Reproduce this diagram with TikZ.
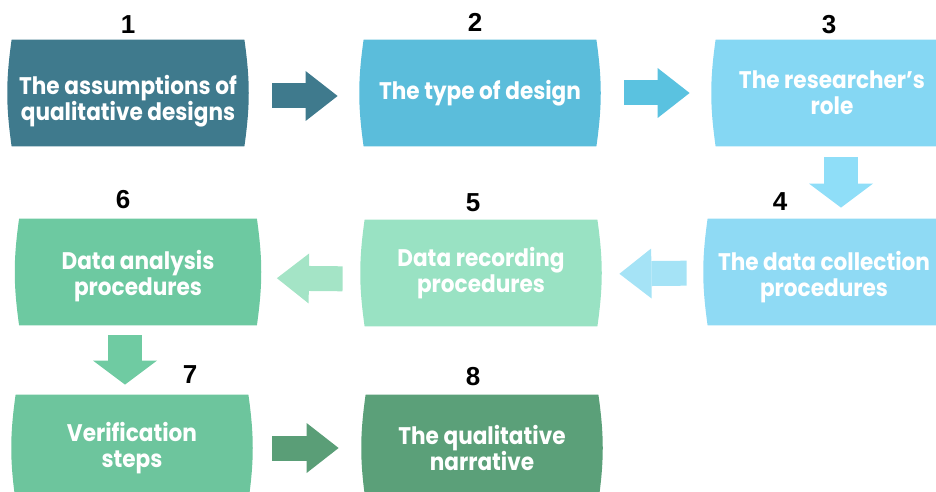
\documentclass[tikz,border=0pt]{standalone}
\usepackage{fontspec}
\setmainfont{Poppins}[FakeStretch=0.9]
\newfontfamily\numfont{Liberation Sans}
\usetikzlibrary{arrows.meta,calc,backgrounds}
% box colours
\definecolor{c1}{HTML}{3F7A8D}
\definecolor{c2}{HTML}{5BBDDB}
\definecolor{c3}{HTML}{85D7F3}
\definecolor{c4}{HTML}{8FDAF4}
\definecolor{c5}{HTML}{99E2C3}
\definecolor{c6}{HTML}{6DC9A1}
\definecolor{c7}{HTML}{6DC59D}
\definecolor{c8}{HTML}{5BA079}
% arrow colours
\definecolor{a23}{HTML}{5AC2E0}
\definecolor{a34}{HTML}{8FDEF8}
\definecolor{a45}{HTML}{A5E3F6}
\definecolor{a56}{HTML}{A4E4C6}
\definecolor{a67}{HTML}{6FCBA2}
\definecolor{a78}{HTML}{5A9E77}

\begin{document}
\begin{tikzpicture}[
        x=0.5pt,
        y=-0.5pt,
        stage/.style={rectangle, inner sep=0pt, minimum width=116pt, minimum height=53pt,
          align=center, text=white, font=\bfseries\fontsize{12}{13.2}\selectfont},
        num/.style={font=\numfont\bfseries\fontsize{13}{13}\selectfont},
        flow/.style={line width=12.5pt, -{Triangle[length=16pt,width=25pt,line width=0pt]}},
        back/.style={line width=12.5pt, {Triangle[length=16pt,width=25pt,line width=0pt]}-},
        drop/.style={line width=17pt, -{Triangle[length=12pt,width=32pt,line width=0pt]}},
        ]
        \clip (0,0) rectangle (936,492);

        % the eight stages, row by row (some text sits a bit low in its box)
        \node(b1)[stage] at (128,101) {The assumptions of\\qualitative designs};
        \node(b2)[stage] at (480,93) {The type of design};
        \node(b3)[stage] at (832,93) {The researcher's\\role};
        \node(b4)[stage] at (824,277) {The data collection\\procedures};
        \node(b5)[stage] at (481,273) {Data recording\\procedures};
        \node(b6)[stage, minimum width=118.5pt] at (138,276) {Data analysis\\procedures};
        \node(b7)[stage] at (132,448) {Verification\\steps};
        \node(b8)[stage] at (482,448) {The qualitative\\narrative};

        % step numbers
        \node(n1)[num] at (128,25) {1};
        \node(n2)[num] at (475,22) {2};
        \node(n3)[num] at (829,25) {3};
        \node(n4)[num] at (780,202) {4};
        \node(n5)[num] at (473,203) {5};
        \node(n6)[num] at (123,200) {6};
        \node(n7)[num] at (190,375) {7};
        \node(n8)[num] at (473,377) {8};

        % box fills with slightly rounded sides, \d undoes the text offset
        \begin{scope}[on background layer]
          \foreach \n/\c/\d in {b1/c1/8,b2/c2/0,b3/c3/0,b4/c4/5,b5/c5/0,b6/c6/4,b7/c7/0,b8/c8/0}
            \fill[\c] ($(\n.north west)+(0,-\d)$) to[bend right=8] ($(\n.south west)+(0,-\d)$)
              -- ($(\n.south east)+(0,-\d)$) to[bend right=8] ($(\n.north east)+(0,-\d)$) -- cycle;
        \end{scope}

        % block arrows
        \draw[flow, c1, shorten <=14pt, shorten >=13pt]
          ($(b1.east)+(0,-5)$) -- ($(b2.west)+(0,3)$);
        \draw[flow, a23, shorten <=14pt, shorten >=13pt] (b2.east) -- (b3.west);
        \draw[drop, a34, shorten <=5.5pt, shorten >=8pt]
          ($(b3.south)+(9,0)$) -- ($(b4.north)+(17,0)$);
        % the backward row: tip at the start of the path
        \draw[back, a45, shorten <=11pt, shorten >=10.5pt]
          ($(b5.east)+(0,1)$) -- ($(b4.west)+(0,-4)$);
        \draw[back, a56, shorten <=10pt, shorten >=11pt]
          ($(b6.east)+(0,2)$) -- ($(b5.west)+(0,6)$);
        \draw[drop, a67, shorten <=3pt, shorten >=5pt]
          ($(b6.south)+(-13,0)$) -- ($(b7.north)+(-7,0)$);
        \draw[flow, a78, shorten <=12pt, shorten >=13.5pt] (b7.east) -- (b8.west);

      \end{tikzpicture}
\end{document}
